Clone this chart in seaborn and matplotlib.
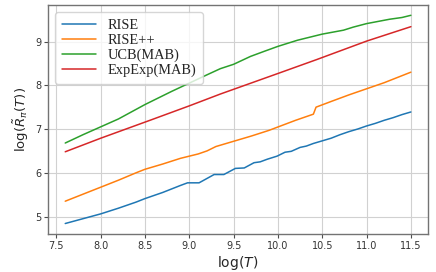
import numpy as np
import pandas as pd
import matplotlib
matplotlib.use("Agg")
import matplotlib.pyplot as plt
import seaborn as sns

# values
rise_x = [7.6, 7.8, 8.0, 8.2, 8.4, 8.5, 8.7, 8.9, 8.98, 9.11, 9.28, 9.39, 9.52, 9.62,
          9.73, 9.80, 9.88, 9.99, 10.08, 10.15, 10.25, 10.32, 10.40, 10.5, 10.6, 10.7,
          10.8, 10.9, 11.0, 11.1, 11.2, 11.3, 11.4, 11.5]
rise_y = [4.84, 4.95, 5.06, 5.19, 5.33, 5.41, 5.55, 5.71, 5.77, 5.77, 5.96, 5.96, 6.10, 6.11,
          6.23, 6.25, 6.31, 6.38, 6.47, 6.49, 6.58, 6.61, 6.67, 6.73, 6.79, 6.87,
          6.94, 7.00, 7.07, 7.13, 7.20, 7.26, 7.33, 7.39]

risepp_x = [7.6, 7.8, 8.0, 8.2, 8.4, 8.5, 8.7, 8.9, 9.1, 9.2, 9.3, 9.5, 9.7, 9.9,
            10.03, 10.2, 10.40, 10.43, 10.6, 10.8, 11.0, 11.2, 11.4, 11.5]
risepp_y = [5.35, 5.51, 5.67, 5.83, 6.00, 6.08, 6.20, 6.33, 6.43, 6.50, 6.60, 6.72, 6.84, 6.97,
            7.07, 7.20, 7.34, 7.50, 7.63, 7.78, 7.92, 8.06, 8.22, 8.30]

ucb_x = [7.6, 7.8, 8.0, 8.2, 8.5, 8.8, 9.0, 9.2, 9.35, 9.5, 9.69, 9.85, 10.0, 10.22,
         10.5, 10.74, 10.85, 11.0, 11.26, 11.4, 11.5]
ucb_y = [6.68, 6.87, 7.05, 7.23, 7.56, 7.86, 8.05, 8.24, 8.38, 8.48, 8.66, 8.78, 8.89, 9.03,
         9.17, 9.26, 9.33, 9.41, 9.51, 9.55, 9.60]

expexp_x = [7.6, 8.0, 8.57, 9.0, 9.35, 10.0, 10.44, 11.0, 11.5]
expexp_y = [6.48, 6.79, 7.21, 7.53, 7.80, 8.27, 8.59, 9.01, 9.34]

labels = ["RISE", "RISE++", "UCB(MAB)", "ExpExp(MAB)"]
colors = ["#1f77b4", "#ff7f0e", "#2ca02c", "#d62728"]
xticks = [7.5, 8.0, 8.5, 9.0, 9.5, 10.0, 10.5, 11.0, 11.5]
yticks = [5, 6, 7, 8, 9]

sns.set_style("whitegrid", {
    "axes.edgecolor": "0.45",
    "grid.color": "0.82",
    "xtick.bottom": True,
    "ytick.left": True,
    "xtick.color": "0.3",
    "ytick.color": "0.3",
})
plt.rcParams["font.family"] = ["DejaVu Sans"]

fig = plt.figure(figsize=(4.36, 2.72), dpi=100)
ax = fig.add_axes([0.110, 0.140, 0.872, 0.842])

series = [(rise_x, rise_y), (risepp_x, risepp_y), (ucb_x, ucb_y), (expexp_x, expexp_y)]
for (xs, ys), lab, col in zip(series, labels, colors):
    sns.lineplot(x=xs, y=ys, ax=ax, label=lab, color=col, linewidth=1.1, sort=False)

ax.set_xticks(xticks)
ax.set_yticks(yticks)
ax.tick_params(axis="both", labelsize=7, length=3, width=0.8, pad=2, labelcolor="0.2")
ax.grid(True, linewidth=0.8)
for sp in ax.spines.values():
    sp.set_linewidth(1.0)

ax.set_xlabel(r"log($T$)", fontsize=10, labelpad=2)
ax.set_ylabel(r"log($\tilde{R}_{\pi}(T)$)", fontsize=9.5, labelpad=3)

ax.legend(loc="upper left", prop={"family": "Liberation Serif", "size": 10.4},
          handlelength=2.4, handletextpad=0.8, labelspacing=0.12,
          borderpad=0.45, frameon=True, edgecolor="0.8", framealpha=0.8)

fig.savefig("out.png", dpi=100)
